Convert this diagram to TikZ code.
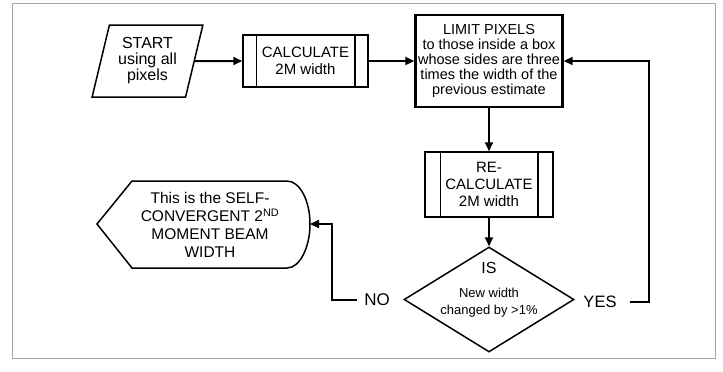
\documentclass[tikz,border=0pt]{standalone}
\usepackage{fontspec}
\setmainfont{Liberation Sans}
\usetikzlibrary{shapes.geometric, arrows.meta}

\tikzset{
  caixa/.style={draw, line width=1.5pt, align=center, inner sep=1pt},
  liga/.style={-{Triangle[length=9pt,width=8pt]}, line width=2pt},
  texto/.style={font=\fontsize{15}{17}\selectfont}
}

\begin{document}
\begin{tikzpicture}[x=1pt, y=-1pt]
    \useasboundingbox (0,0) rectangle (723,372);
    % Moldura
    \draw[gray!70, line width=0.8pt] (12,3) rectangle (715,358);

    % Inicio
    \node[trapezium, trapezium stretches=true, trapezium left angle=74, trapezium right angle=106,
          draw, line width=1.5pt, minimum width=111pt, minimum height=72pt, inner sep=0pt,
          align=center, font=\fontsize{16}{16}\selectfont] (inicio) at (147.5,61) {START\\using all\\pixels};

    % Calculo
    \node[caixa, texto, minimum width=125pt, minimum height=52pt] (calc) at (305.5,61) {CALCULATE\\2M width};
    \draw[line width=1.5pt] ([xshift=14pt]calc.north west) -- ([xshift=14pt]calc.south west);
    \draw[line width=1.5pt] ([xshift=-14pt]calc.north east) -- ([xshift=-14pt]calc.south east);

    % Limite
    \node[caixa, line width=2.4pt, minimum width=147pt, minimum height=92pt,
          font=\fontsize{14.5}{15}\selectfont] (limite) at (489,61)
          {LIMIT PIXELS\\to those inside a box\\whose sides are three\\times the width of the\\previous estimate};

    % Recalculo
    \node[caixa, texto, minimum width=128pt, minimum height=65pt] (recalc) at (489,184.5) {RE-\\CALCULATE\\2M width};
    \draw[line width=1.5pt] ([xshift=16pt]recalc.north west) -- ([xshift=16pt]recalc.south west);
    \draw[line width=1.5pt] ([xshift=-16pt]recalc.north east) -- ([xshift=-16pt]recalc.south east);

    % Teste
    \node[diamond, draw, line width=1.5pt, minimum width=170pt, minimum height=105pt, inner sep=0pt] (teste) at (489,299.5) {};
    \node[font=\fontsize{16}{16}\selectfont] (is) at (489,267.5) {IS};
    \node[align=center, font=\fontsize{13}{17}\selectfont] (criterio) at (489,302.5) {New width\\changed by >1\%};
    \node[font=\fontsize{16.5}{16}\selectfont] (sim) at (600,302) {YES};
    \node[font=\fontsize{17}{16}\selectfont] (nao) at (377,300) {NO};

    % Fim
    \node[align=center, font=\fontsize{15.5}{18}\selectfont] (fim) at (210,225)
          {This is the SELF-\\CONVERGENT 2\textsuperscript{ND}\\MOMENT BEAM\\WIDTH};
    \coordinate (fimponta) at (310,224);
    \draw[line width=1.5pt] (97,224) -- (132,181) -- (287,181)
          .. controls (300,181) and (310,201) .. (fimponta)
          .. controls (310,247) and (300,268) .. (287,268) -- (132,268) -- cycle;

    % Ligacoes
    \draw[liga] (inicio.east) -- (calc.west);
    \draw[liga] (calc.east) -- (limite.west);
    \draw[liga] (limite.south) -- (recalc.north);
    \draw[liga] (recalc.south) -- (teste.north);
    \draw[liga] ([xshift=10pt]sim.east) -| ([xshift=85pt]limite.east) -- (limite.east);
    \draw[liga] ([xshift=-4pt]nao.west) -| ([xshift=22pt]fimponta) -- (fimponta);
\end{tikzpicture}
\end{document}
